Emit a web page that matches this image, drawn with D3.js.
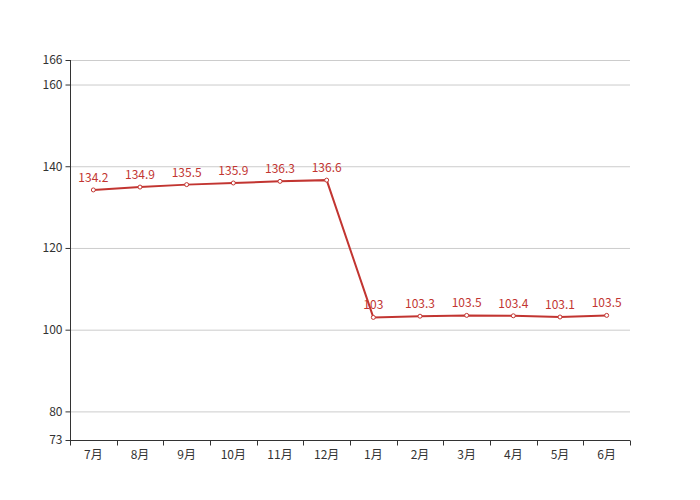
<!DOCTYPE html>
<html><head><meta charset="utf-8">
<script src="https://cdn.jsdelivr.net/npm/d3@7"></script>
<style>body{margin:0;background:#fff}svg{display:block;font-family:"Noto Sans CJK SC","Noto Sans",sans-serif}</style>
</head><body><svg id="c" width="700" height="500"></svg>
<script>
const categories = ["7月","8月","9月","10月","11月","12月","1月","2月","3月","4月","5月","6月"];
const values = [134.2,134.9,135.5,135.9,136.3,136.6,103,103.3,103.5,103.4,103.1,103.5];
const yTicks = [73,80,100,120,140,160,166];
const yDomain = [73,166];

const svg = d3.select("#c");
const m = {l:70, r:70, t:60, b:60};
const W = 700, H = 500;
const x = d3.scaleBand().domain(categories).range([m.l, W-m.r]);
const y = d3.scaleLinear().domain(yDomain).range([H-m.b, m.t]);
const color = "#c23531";

// grid
svg.append("g").selectAll("line").data(yTicks.filter(d=>d!==73)).join("line")
  .attr("x1", m.l).attr("x2", W-m.r).attr("y1", d=>y(d)+0.5).attr("y2", d=>y(d)+0.5)
  .attr("stroke", "#ccc").attr("stroke-width", 1);

// y axis
const ya = svg.append("g").attr("transform", `translate(${m.l+0.5},0)`)
  .call(d3.axisLeft(y).tickValues(yTicks).tickSize(5).tickPadding(3).tickFormat(d3.format("d")));
ya.select(".domain").attr("stroke", "#333").attr("d", `M0,${y(73)}V${y(166)}`);
ya.selectAll(".tick line").attr("stroke", "#333");
ya.selectAll(".tick text").attr("fill", "#333").attr("font-size", 12).attr("font-family", '"Noto Sans CJK SC",sans-serif');

// x axis
const xa = svg.append("g").attr("transform", `translate(0,${y(73)+0.5})`);
xa.append("line").attr("x1", m.l).attr("x2", W-m.r).attr("stroke", "#333");
const bounds = categories.map(c=>x(c)).concat([W-m.r]);
xa.selectAll("line.t").data(bounds).join("line").attr("class","t")
  .attr("x1", d=>Math.round(d)+0.5).attr("x2", d=>Math.round(d)+0.5).attr("y1", 0).attr("y2", 5).attr("stroke", "#333");
xa.selectAll("text").data(categories).join("text")
  .attr("x", d=>x(d)+x.bandwidth()/2).attr("y", 18).attr("text-anchor", "middle")
  .attr("fill", "#333").attr("font-size", 12).text(d=>d);

// line
const cx = (d,i)=>x(categories[i])+x.bandwidth()/2;
svg.append("path").datum(values)
  .attr("d", d3.line().x((d,i)=>cx(d,i)).y(d=>y(d)))
  .attr("fill", "none").attr("stroke", color).attr("stroke-width", 2);

svg.append("g").selectAll("circle").data(values).join("circle")
  .attr("cx", (d,i)=>cx(d,i)).attr("cy", d=>y(d)).attr("r", 2)
  .attr("fill", "#fff").attr("stroke", color).attr("stroke-width", 1);

svg.append("g").selectAll("text").data(values).join("text")
  .attr("x", (d,i)=>cx(d,i)).attr("y", d=>y(d)-8).attr("text-anchor", "middle")
  .attr("fill", color).attr("font-size", 12).text(d=>d);
</script></body></html>
